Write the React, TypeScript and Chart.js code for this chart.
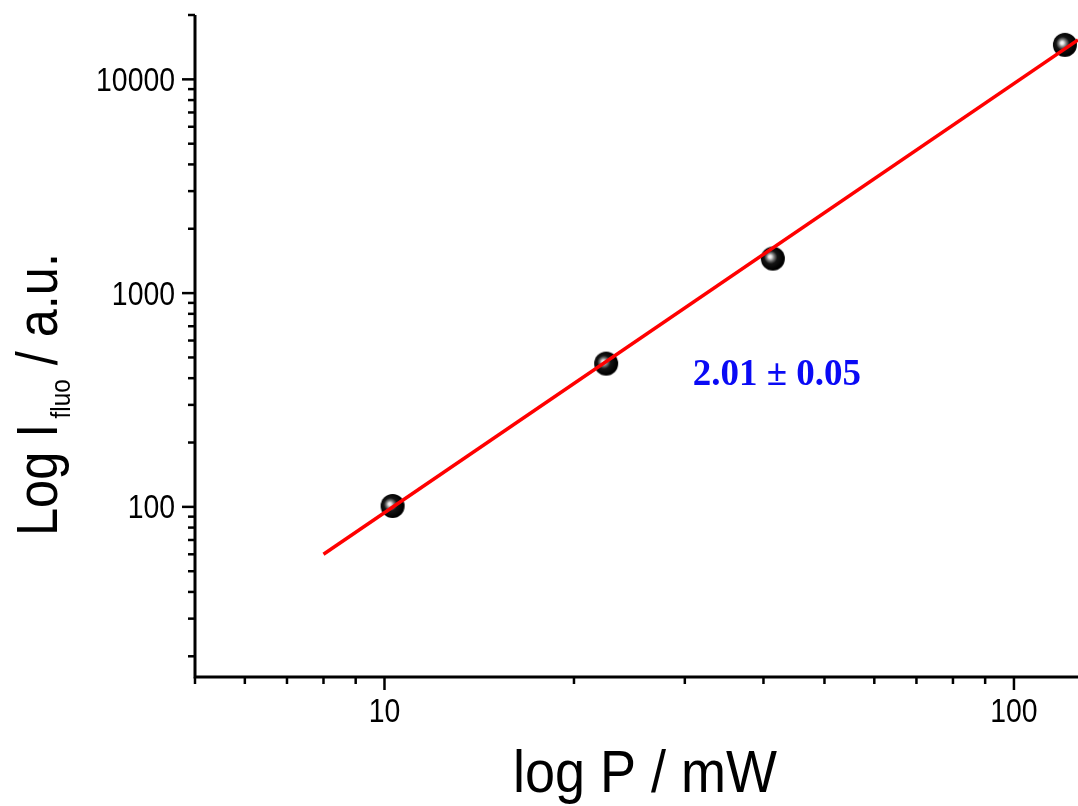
import React, { useEffect, useRef } from "react";
import { Chart, registerables } from "chart.js";

Chart.register(...registerables);

// ---- data ----
const powerMW = [10.3, 22.5, 41.4, 120.5];
const intensity = [101, 468, 1450, 14500];
const fitPower = [8.0, 126.4];
const fitIntensity = [60.0, 15300];

const xRange = [5, 126.4];
const yRange = [16, 20000];

const xMajorTicks = [10, 100];
const xTickLabels = ["10", "100"];
const xMinorTicks = [5, 6, 7, 8, 9, 20, 30, 40, 50, 60, 70, 80, 90];
const yMajorTicks = [100, 1000, 10000];
const yTickLabels = ["100", "1000", "10000"];
const yMinorTicks = [
  20, 30, 40, 50, 60, 70, 80, 90, 200, 300, 400, 500, 600, 700, 800, 900,
  2000, 3000, 4000, 5000, 6000, 7000, 8000, 9000, 20000,
];

const slopeText = "2.01 ± 0.05";
const slopeAnchor = [42, 370];
const xTitle = "log P / mW";
const yTitleMain = "Log I";
const yTitleSub = "fluo";
const yTitleTail = " / a.u.";

function makeBall(r: number): HTMLCanvasElement {
  const s = Math.ceil(2 * r + 2);
  const c = document.createElement("canvas");
  c.width = s;
  c.height = s;
  const g = c.getContext("2d")!;
  const cx = s / 2;
  const cy = s / 2;
  const grad = g.createRadialGradient(cx - 3, cy - 2, 0, cx - 1.5, cy - 1, r);
  grad.addColorStop(0, "#ffffff");
  grad.addColorStop(0.14, "#e0e0e0");
  grad.addColorStop(0.32, "#7a7a7a");
  grad.addColorStop(0.55, "#151515");
  grad.addColorStop(1, "#000000");
  g.fillStyle = grad;
  g.beginPath();
  g.arc(cx, cy, r, 0, Math.PI * 2);
  g.fill();
  return c;
}

function drawSquashed(
  ctx: CanvasRenderingContext2D,
  text: string,
  x: number,
  y: number,
  font: string,
  align: CanvasTextAlign,
  sx: number
) {
  ctx.save();
  ctx.translate(x, y);
  ctx.scale(sx, 1);
  ctx.font = font;
  ctx.textAlign = align;
  ctx.textBaseline = "alphabetic";
  ctx.fillText(text, 0, 0);
  ctx.restore();
}

const decorPlugin = {
  id: "decor",
  afterDraw(chart: any) {
    const { ctx, chartArea: a, scales } = chart;
    const xs = scales.x;
    const ys = scales.y;
    ctx.save();
    ctx.strokeStyle = "#000";
    ctx.fillStyle = "#000";
    // axis lines
    ctx.lineWidth = 3;
    ctx.beginPath();
    ctx.moveTo(a.left, a.top);
    ctx.lineTo(a.left, a.bottom);
    ctx.lineTo(a.right, a.bottom);
    ctx.stroke();
    // ticks
    ctx.lineWidth = 2.5;
    const tick = (vals: number[], len: number) => {
      vals.forEach((v) => {
        const px = xs.getPixelForValue(v);
        ctx.beginPath();
        ctx.moveTo(px, a.bottom);
        ctx.lineTo(px, a.bottom + len);
        ctx.stroke();
      });
    };
    const ytick = (vals: number[], len: number) => {
      vals.forEach((v) => {
        const py = ys.getPixelForValue(v);
        ctx.beginPath();
        ctx.moveTo(a.left, py);
        ctx.lineTo(a.left - len, py);
        ctx.stroke();
      });
    };
    tick(xMajorTicks, 13);
    tick(xMinorTicks, 7);
    ytick(yMajorTicks, 13);
    ytick(yMinorTicks, 7);

    const tickFont = "33px 'Liberation Sans', Arial, sans-serif";
    xMajorTicks.forEach((v, i) => {
      drawSquashed(ctx, xTickLabels[i], xs.getPixelForValue(v), a.bottom + 45, tickFont, "center", 0.86);
    });
    yMajorTicks.forEach((v, i) => {
      drawSquashed(ctx, yTickLabels[i], a.left - 20, ys.getPixelForValue(v) + 11.5, tickFont, "right", 0.86);
    });

    // x title
    drawSquashed(ctx, xTitle, 645, 792, "60px 'Liberation Sans', Arial, sans-serif", "center", 0.9);

    // y title (rotated, with subscript)
    ctx.save();
    ctx.translate(57, 536);
    ctx.rotate(-Math.PI / 2);
    ctx.scale(0.87, 1);
    ctx.textAlign = "left";
    ctx.textBaseline = "alphabetic";
    const mainFont = "58px 'Liberation Sans', Arial, sans-serif";
    const subFont = "28px 'Liberation Sans', Arial, sans-serif";
    ctx.font = mainFont;
    let xpos = 0;
    ctx.fillText(yTitleMain, xpos, 0);
    xpos += ctx.measureText(yTitleMain).width + 6;
    ctx.font = subFont;
    ctx.fillText(yTitleSub, xpos, 13);
    xpos += ctx.measureText(yTitleSub).width;
    ctx.font = mainFont;
    ctx.fillText(yTitleTail, xpos, 0);
    ctx.restore();

    // slope annotation
    ctx.fillStyle = "#0a0af5";
    ctx.font = "bold 37px 'Liberation Serif', 'Times New Roman', serif";
    ctx.textAlign = "center";
    ctx.textBaseline = "alphabetic";
    ctx.fillText(slopeText, xs.getPixelForValue(slopeAnchor[0]), ys.getPixelForValue(slopeAnchor[1]));
    ctx.restore();
  },
};

export default function App() {
  const ref = useRef<HTMLCanvasElement | null>(null);
  useEffect(() => {
    if (!ref.current) return;
    const ball = makeBall(12);
    const chart = new Chart(ref.current, {
      type: "scatter",
      data: {
        datasets: [
          {
            label: "fit",
            data: fitPower.map((x, i) => ({ x, y: fitIntensity[i] })),
            showLine: true,
            borderColor: "#ff0000",
            borderWidth: 3.5,
            pointRadius: 0,
            order: 0,
          },
          {
            label: "data",
            data: powerMW.map((x, i) => ({ x, y: intensity[i] })),
            showLine: false,
            pointStyle: ball as any,
            pointRadius: 12,
            order: 1,
          },
        ],
      },
      options: {
        responsive: false,
        animation: false,
        devicePixelRatio: 1,
        layout: { autoPadding: false, padding: { left: 195, top: 15, right: 0, bottom: 129 } } as any,
        plugins: { legend: { display: false }, tooltip: { enabled: false } },
        scales: {
          x: { type: "logarithmic", min: xRange[0], max: xRange[1], display: false },
          y: { type: "logarithmic", min: yRange[0], max: yRange[1], display: false },
        },
        datasets: { scatter: { clip: false } } as any,
      },
      plugins: [decorPlugin],
    });
    return () => chart.destroy();
  }, []);
  return (
    <div style={{ position: "fixed", left: 0, top: 0, width: 1078, height: 806, background: "#fff" }}>
      <canvas ref={ref} width={1078} height={806} />
    </div>
  );
}
